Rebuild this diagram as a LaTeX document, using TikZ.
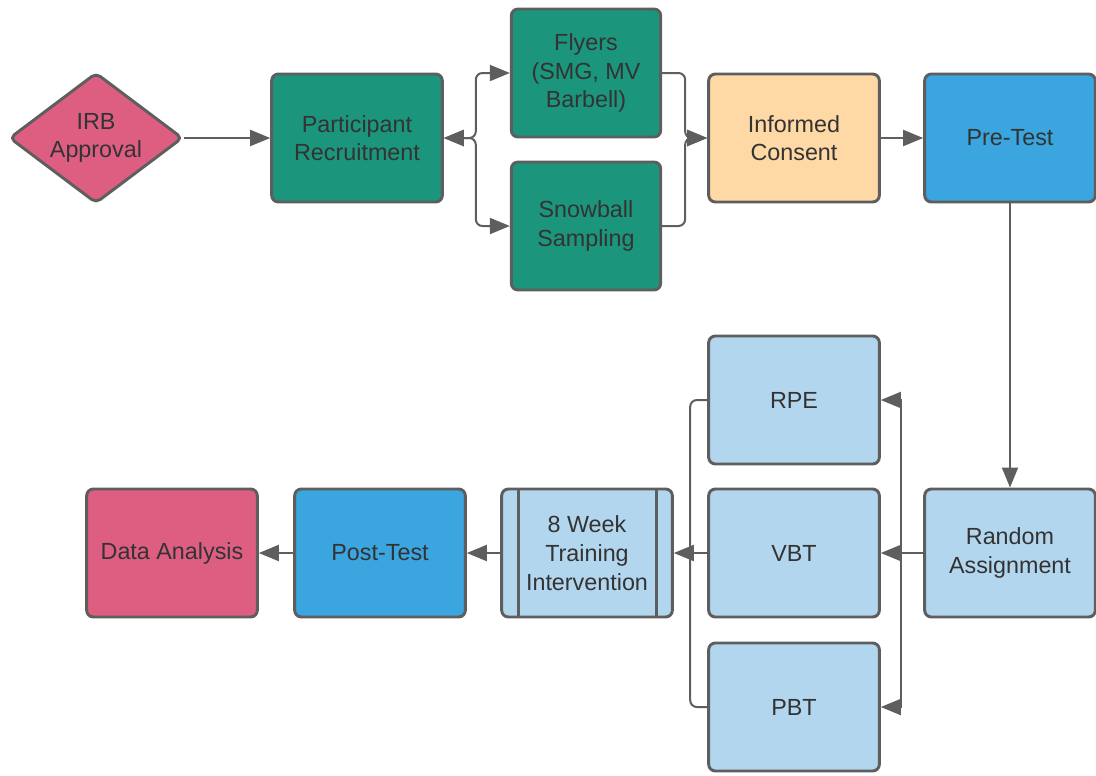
\documentclass[tikz,border=0pt]{standalone}
\usepackage{fontspec}
\setmainfont{Liberation Sans}
\usetikzlibrary{arrows.meta, positioning, shapes.geometric}
\definecolor{edgegray}{HTML}{5E5E5E}
\definecolor{txtgray}{HTML}{333333}
\definecolor{tealbox}{HTML}{1B957B}
\definecolor{pinkbox}{HTML}{DE5E82}
\definecolor{sandbox}{HTML}{FFD9A5}
\definecolor{bluebox}{HTML}{3AA5DE}
\definecolor{lightbox}{HTML}{B3D6EF}

\begin{document}
\begin{tikzpicture}[x=0.75pt, y=-0.75pt, font=\fontsize{17.5}{21.5}\selectfont, text=txtgray,
    box/.style={draw=edgegray, line width=2.2pt, rounded corners=5pt, minimum width=128pt, minimum height=96pt, align=center, inner sep=2pt},
    conn/.style={draw=edgegray, line width=1.5pt},
    >={Triangle[length=15pt, width=12pt]}]
    \useasboundingbox (0,0) rectangle (1096,775);
    % top row
    \node[draw=edgegray, line width=2.2pt, rounded corners=4pt, diamond, aspect=1.33, minimum width=130pt, minimum height=98pt, inner sep=0pt, fill=pinkbox, align=center] (irb) at (96,138) {IRB\\Approval};
    \node[box, fill=tealbox] (recruit) at (357,138) {Participant\\Recruitment};
    \node[box, fill=tealbox, minimum width=112pt] (flyers) at (586,73) {Flyers\\(SMG, MV\\Barbell)};
    \node[box, fill=tealbox, minimum width=112pt] (snowball) at (586,226) {Snowball\\Sampling};
    \node[box, fill=sandbox] (consent) at (794,138) {Informed\\Consent};
    \node[box, fill=bluebox] (pretest) at (1010,138) {Pre-Test};
    % bottom part
    \node[box, fill=lightbox] (random) at (1010,553) {Random\\Assignment};
    \foreach \g/\y in {RPE/400,VBT/553,PBT/707} {
        \node[box, fill=lightbox] (\g) at (794,\y) {\g};
    }
    \node[box, fill=lightbox] (train) at (587,553) {8 Week\\Training\\Intervention};
    \draw[edgegray, line width=2.2pt] ([xshift=14pt]train.north west) -- ([xshift=14pt]train.south west);
    \draw[edgegray, line width=2.2pt] ([xshift=-13pt]train.north east) -- ([xshift=-13pt]train.south east);
    \node[box, fill=bluebox] (posttest) at (380,553) {Post-Test};
    \node[box, fill=pinkbox] (analysis) at (172,553) {Data Analysis};
    % connectors
    \draw[conn, ->] (irb) -- (recruit);
    \draw[conn, <->, rounded corners=5pt] (recruit.east) -- ++(32,0) |- (flyers.west);
    \draw[conn, <->, rounded corners=5pt] (recruit.east) -- ++(32,0) |- (snowball.west);
    \draw[conn, ->, rounded corners=5pt] (flyers.east) -- ++(23,0) |- (consent.west);
    \draw[conn, ->, rounded corners=5pt] (snowball.east) -- ++(23,0) |- (consent.west);
    \draw[conn, ->] (consent) -- (pretest);
    \draw[conn, ->] (pretest) -- (random);
    \draw[conn, ->] (random.west) -- ++(-22,0) |- (RPE.east);
    \draw[conn, ->] (random) -- (VBT);
    \draw[conn, ->] (random.west) -- ++(-22,0) |- (PBT.east);
    \draw[conn, rounded corners=5pt] (RPE.west) -- ++(-17,0) -- ([xshift=-12.75pt]VBT.west);
    \draw[conn, rounded corners=5pt] (PBT.west) -- ++(-17,0) -- ([xshift=-12.75pt]VBT.west);
    \draw[conn, ->] (VBT) -- (train);
    \draw[conn, ->] (train) -- (posttest);
    \draw[conn, ->] (posttest) -- (analysis);
\end{tikzpicture}
\end{document}
